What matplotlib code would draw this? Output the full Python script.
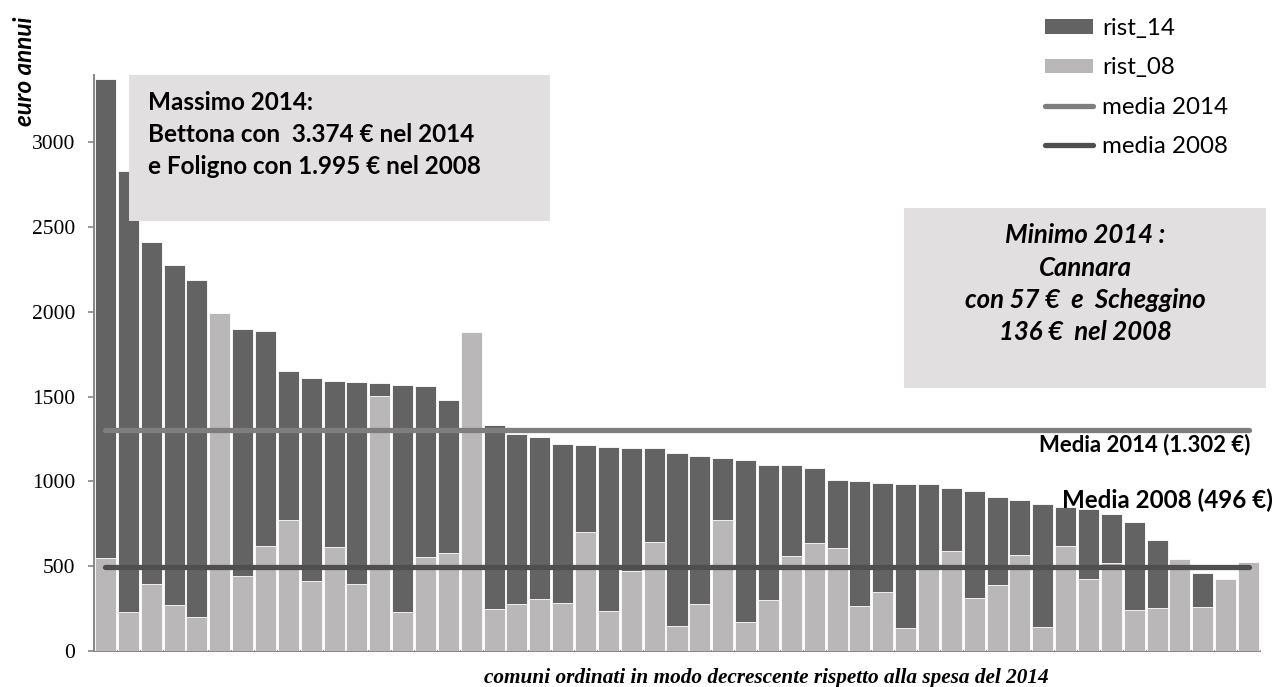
import matplotlib
matplotlib.use("Agg")
import matplotlib.pyplot as plt
from matplotlib.patches import Rectangle, Patch
from matplotlib.lines import Line2D
import numpy as np

# Spesa annua (euro) per comune, ordinata per spesa 2014 decrescente
rist_14 = [3374, 2832, 2415, 2275, 2187, 1950, 1901, 1887, 1649, 1608,
           1592, 1588, 1578, 1570, 1564, 1482, 1435, 1330, 1279, 1263,
           1218, 1212, 1200, 1197, 1197, 1169, 1147, 1139, 1126, 1098,
           1096, 1077, 1006, 1002, 988, 982, 982, 962, 941, 909,
           888, 864, 848, 838, 809, 758, 655, 520, 457, 150, 57]
rist_08 = [549, 228, 396, 268, 199, 1995, 441, 620, 770, 411,
           612, 394, 1502, 228, 553, 575, 1880, 244, 274, 307,
           283, 701, 236, 469, 642, 146, 274, 771, 168, 299,
           559, 634, 606, 264, 345, 136, 485, 587, 309, 390,
           567, 142, 616, 425, 520, 238, 252, 540, 260, 421, 522]
media_2014 = 1302
media_2008 = 496
yticks = [0, 500, 1000, 1500, 2000, 2500, 3000]

DARK = "#636363"
LIGHT = "#bab7b8"
LINE14 = "#807d80"
LINE08 = "#4f4f4f"
BOXFILL = "#e1dfe0"
SANS = ["Lato", "DejaVu Sans"]
SERIF = ["Liberation Serif", "DejaVu Serif"]

W, H = 1288, 687
fig = plt.figure(figsize=(W / 100, H / 100), dpi=100)
ax = fig.add_axes([94 / W, 36.3 / H, 1166 / W, 576 / H])

x = np.arange(len(rist_14))
ax.bar(x, rist_14, width=0.92, color=DARK, edgecolor="white", linewidth=0.6, zorder=2)
ax.bar(x, rist_08, width=0.92, color=LIGHT, edgecolor="white", linewidth=0.6, zorder=3)
ax.plot([x[0], x[-1]], [media_2014, media_2014], color=LINE14, lw=3.8,
        solid_capstyle="round", zorder=4)
ax.plot([x[0], x[-1]], [media_2008, media_2008], color=LINE08, lw=3.8,
        solid_capstyle="round", zorder=4)

ax.set_xlim(-0.5, len(x) - 0.5)
ax.set_ylim(0, 3400)
ax.set_yticks(yticks)
ax.set_xticks([])
for side in ("top", "right"):
    ax.spines[side].set_visible(False)
for side in ("left", "bottom"):
    ax.spines[side].set_color("#868686")
    ax.spines[side].set_linewidth(1.4)
ax.tick_params(axis="y", direction="out", length=4.5, width=1.2, color="#868686",
               pad=9, labelsize=15.5)
for lab in ax.get_yticklabels():
    lab.set_fontfamily(SERIF)

# legenda
handles = [Patch(facecolor=DARK, edgecolor="none"),
           Patch(facecolor=LIGHT, edgecolor="none"),
           Line2D([], [], color=LINE14, lw=3.8, solid_capstyle="round"),
           Line2D([], [], color=LINE08, lw=3.8, solid_capstyle="round")]
labels = ["rist_14", "rist_08", "media 2014", "media 2008"]
leg = fig.legend(handles, labels, loc="upper left",
                 bbox_to_anchor=(1045 / W, 1 - 18 / H), frameon=False,
                 prop={"family": SANS, "size": 17.4}, handlelength=1.98,
                 handleheight=0.54, handletextpad=0.37, labelspacing=0.76,
                 borderpad=0, borderaxespad=0)


def px_box(x0, y0, x1, y1):
    fig.add_artist(Rectangle((x0 / W, 1 - y1 / H), (x1 - x0) / W, (y1 - y0) / H,
                             transform=fig.transFigure, facecolor=BOXFILL,
                             edgecolor="none", zorder=5))


def px_text(xp, yp, s, **kw):
    fig.text(xp / W, 1 - yp / H, s, zorder=6, **kw)


# riquadro massimo
px_box(129, 75, 550, 221)
for yy, s in zip([102, 134, 166], ["Massimo 2014:",
                                   "Bettona con  3.374 € nel 2014",
                                   "e Foligno con 1.995 € nel 2008"]):
    px_text(148, yy, s, family=SANS, weight="bold", size=17.5, va="center", ha="left")

# riquadro minimo
px_box(904, 208, 1266, 388)
for yy, s in zip([235, 268, 300, 332], ["Minimo 2014 :", "Cannara",
                                        "con 57 €  e  Scheggino",
                                        "136 €  nel 2008"]):
    px_text(1085, yy, s, family=SANS, weight="bold", style="italic", size=18.5,
            va="center", ha="center")

# etichette delle medie
px_text(1250, 445, "Media 2014 (1.302 €)", family=SANS, weight="bold", size=15.9,
        va="center", ha="right")
px_text(1273, 500, "Media 2008 (496 €)", family=SANS, weight="bold", size=17.4,
        va="center", ha="right")

# titoli degli assi
px_text(25, 71, "euro annui", family=SANS, weight="bold", style="italic", size=17.5,
        rotation=90, va="center", ha="center")
px_text(766, 678, "comuni ordinati in modo decrescente rispetto alla spesa del 2014",
        family=SERIF, weight="bold", style="italic", size=15.3, va="center", ha="center")

fig.savefig("out.png", dpi=100)
